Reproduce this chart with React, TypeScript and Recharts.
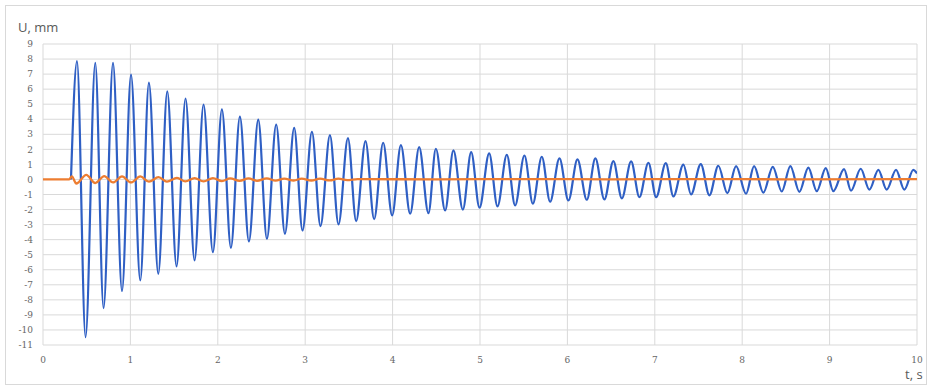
import { LineChart, Line, XAxis, YAxis, CartesianGrid } from 'recharts'

// blue series: displacement of the structure (peaks and troughs)
const bluePeakT = [
  0.389, 0.598, 0.801, 1.007, 1.212, 1.422, 1.631, 1.837, 2.047, 2.253, 2.463, 2.668, 2.874, 3.077,
  3.283, 3.489, 3.69, 3.892, 4.095, 4.304, 4.495, 4.696, 4.899, 5.105, 5.307, 5.508, 5.707, 5.909,
  6.115, 6.32, 6.526, 6.729, 6.927, 7.126, 7.327, 7.526, 7.727, 7.93, 8.136, 8.35, 8.551, 8.757,
  8.956, 9.165, 9.356, 9.558, 9.76, 9.958,
]
const bluePeakU = [
  7.86, 7.75, 7.75, 6.96, 6.43, 5.85, 5.38, 4.98, 4.65, 4.17, 3.97, 3.65, 3.43, 3.17,
  2.94, 2.75, 2.55, 2.44, 2.28, 2.15, 2.04, 1.93, 1.81, 1.73, 1.64, 1.59, 1.51, 1.4,
  1.33, 1.4, 1.22, 1.2, 1.11, 1.08, 0.98, 1.02, 0.91, 0.88, 0.88, 0.84, 0.88, 0.78,
  0.75, 0.68, 0.71, 0.64, 0.64, 0.64,
]
const blueTroughT = [
  0.487, 0.693, 0.904, 1.113, 1.319, 1.528, 1.734, 1.944, 2.15, 2.356, 2.562, 2.768, 2.969, 3.175,
  3.381, 3.583, 3.789, 3.995, 4.201, 4.41, 4.601, 4.804, 4.994, 5.2, 5.402, 5.605, 5.802, 6.012,
  6.222, 6.423, 6.623, 6.824, 7.015, 7.213, 7.415, 7.625, 7.83, 8.044, 8.242, 8.453, 8.654, 8.853,
  9.043, 9.245, 9.455, 9.653, 9.855,
]
const blueTroughU = [
  -10.48, -8.55, -7.42, -6.71, -6.27, -5.78, -5.38, -4.83, -4.54, -4.12, -3.94, -3.61, -3.39, -3.1,
  -2.99, -2.77, -2.64, -2.39, -2.28, -2.24, -2.06, -2.01, -1.88, -1.79, -1.73, -1.61, -1.48, -1.4,
  -1.35, -1.33, -1.26, -1.18, -1.18, -1.13, -1.0, -1.06, -0.91, -0.95, -0.88, -0.8, -0.82, -0.78,
  -0.78, -0.75, -0.68, -0.68, -0.68,
]
// onset of the motion and the last sample
const blueEdgeT = [0.32, 10]
const blueEdgeU = [0, 0.4]

// orange series: small response in anti-phase, dying out
const orangeT = [
  0, 0.3, 0.33, 0.381, 0.495, 0.598, 0.701, 0.801, 0.904, 1.007, 1.113, 1.212, 1.322, 1.418,
  1.533, 1.628, 1.734, 1.837, 1.944, 2.047, 2.142, 2.249, 2.352, 2.448, 2.56, 2.66, 2.76, 2.87,
  2.96, 3.07, 3.17, 3.28, 3.38, 3.48, 3.6, 4.5, 5.5, 6.5, 7.5, 8.5, 10,
]
const orangeU = [
  0, 0, 0.2, -0.27, 0.3, -0.24, 0.22, -0.2, 0.2, -0.2, 0.2, -0.15, 0.15, -0.15,
  0.11, -0.13, 0.09, -0.13, 0.09, -0.11, 0.07, -0.09, 0.07, -0.09, 0.07, -0.08, 0.06, -0.07,
  0.06, -0.07, 0.05, -0.06, 0.05, -0.05, 0.02, 0.01, 0.02, 0.01, 0.02, 0.01, 0.02,
]

const xTicks = [0, 1, 2, 3, 4, 5, 6, 7, 8, 9, 10]
const yTicks = [-11, -10, -9, -8, -7, -6, -5, -4, -3, -2, -1, 0, 1, 2, 3, 4, 5, 6, 7, 8, 9]

const blueData = [
  ...bluePeakT.map((t, i) => ({ t, u: bluePeakU[i] })),
  ...blueTroughT.map((t, i) => ({ t, u: blueTroughU[i] })),
  ...blueEdgeT.map((t, i) => ({ t, u: blueEdgeU[i] })),
].sort((a, b) => a.t - b.t)

const orangeData = orangeT.map((t, i) => ({ t, u: orangeU[i] }))

const tickStyle = { fontSize: 9, fill: '#666666', fontFamily: 'DejaVu Serif' }
const titleStyle = {
  position: 'absolute' as const,
  fontFamily: 'Open Sans',
  fontSize: 13,
  color: '#595959',
  lineHeight: '13px',
}

export default function App() {
  return (
    <div style={{ position: 'absolute', left: 0, top: 0, width: 932, height: 387, background: '#fff' }}>
      <div
        style={{
          position: 'absolute',
          left: 5,
          top: 5,
          width: 922,
          height: 380,
          border: '1px solid #d9d9d9',
          boxSizing: 'border-box',
        }}
      />
      <div style={{ ...titleStyle, left: 18, top: 21 }}>U, mm</div>
      <div style={{ ...titleStyle, left: 905, top: 368 }}>t, s</div>
      <div style={{ position: 'absolute', left: 0, top: 0 }}>
        <LineChart width={932} height={387} margin={{ top: 44, right: 15, bottom: 12, left: 3 }}>
          <CartesianGrid stroke="#d9d9d9" strokeWidth={1} />
          <XAxis
            type="number"
            dataKey="t"
            domain={[0, 10]}
            ticks={xTicks}
            allowDataOverflow
            axisLine={false}
            tickLine={false}
            tickMargin={6}
            height={30}
            tick={tickStyle}
          />
          <YAxis
            type="number"
            domain={[-11, 9]}
            ticks={yTicks}
            interval={0}
            allowDataOverflow
            axisLine={false}
            tickLine={false}
            tickMargin={4}
            width={40}
            tick={tickStyle}
          />
          <Line
            data={blueData}
            dataKey="u"
            type="monotone"
            stroke="#2f5fc4"
            strokeWidth={2.2}
            dot={false}
            isAnimationActive={false}
          />
          <Line
            data={orangeData}
            dataKey="u"
            type="monotone"
            stroke="#ed7d31"
            strokeWidth={2.3}
            dot={false}
            isAnimationActive={false}
          />
        </LineChart>
      </div>
    </div>
  )
}
